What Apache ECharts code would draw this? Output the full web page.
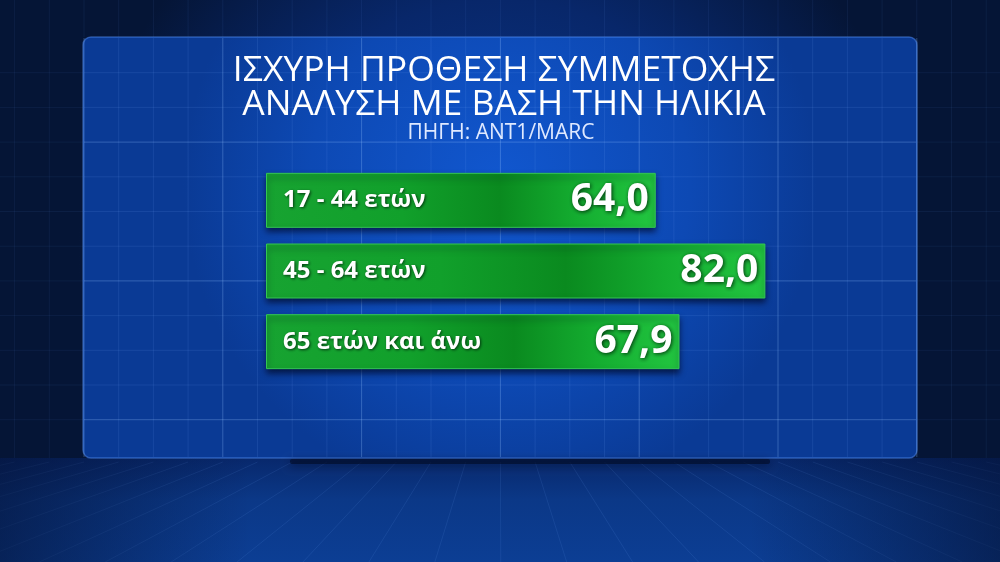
<!DOCTYPE html>
<html>
<head>
<meta charset="utf-8">
<style>html,body{margin:0;padding:0;background:#071a45;}#c{width:1000px;height:562px;}</style>
<script src="https://cdn.jsdelivr.net/npm/echarts@6/dist/echarts.min.js"></script>
</head>
<body>
<div id="c"></div>
<script>
const titleLines = ['ΙΣΧΥΡΗ ΠΡΟΘΕΣΗ ΣΥΜΜΕΤΟΧΗΣ', 'ΑΝΑΛΥΣΗ ΜΕ ΒΑΣΗ ΤΗΝ ΗΛΙΚΙΑ'];
const sourceText = 'ΠΗΓΗ: ANT1/MARC';
const categories = ['17 - 44 ετών', '45 - 64 ετών', '65 ετών και άνω'];
const values = [64.0, 82.0, 67.9];

const chart = echarts.init(document.getElementById('c'), null, {renderer: 'canvas'});

// decorative background
const deco = [];
deco.push({type: 'rect', shape: {x: 0, y: 0, width: 1000, height: 562}, z: -20,
  style: {fill: new echarts.graphic.RadialGradient(0.5, 0.45, 0.75, [
    {offset: 0, color: '#0c3a92'}, {offset: 0.6, color: '#08276a'}, {offset: 1, color: '#051536'}])}});
// floor
deco.push({type: 'rect', shape: {x: 0, y: 458, width: 1000, height: 104}, z: -19,
  style: {fill: new echarts.graphic.LinearGradient(0, 0, 0, 1, [
    {offset: 0, color: '#08286c'}, {offset: 0.4, color: '#0b3887'}, {offset: 1, color: '#0c3e94'}])}});
for (let k = -20; k <= 48; k++) {
  const xt = 84 + 34.7 * k;
  const xb = 500 + (xt - 500) * 1.9;
  deco.push({type: 'line', shape: {x1: xt, y1: 462, x2: xb, y2: 562}, z: -17,
    style: {stroke: 'rgba(120,170,255,0.11)', lineWidth: 1}});
}
deco.push({type: 'rect', shape: {x: 0, y: 458, width: 1000, height: 104}, z: -16,
  style: {fill: new echarts.graphic.LinearGradient(0, 0, 1, 0, [
    {offset: 0, color: 'rgba(3,12,40,0.55)'}, {offset: 0.25, color: 'rgba(3,12,40,0)'},
    {offset: 0.75, color: 'rgba(3,12,40,0)'}, {offset: 1, color: 'rgba(3,12,40,0.55)'}])}});
// panel
deco.push({type: 'rect', shape: {x: 83, y: 37, width: 834, height: 421, r: 8}, z: -15,
  style: {fill: new echarts.graphic.RadialGradient(0.5, 0.35, 0.75, [
    {offset: 0, color: '#1157cf'}, {offset: 0.6, color: '#0d49b4'}, {offset: 1, color: '#0a3a95'}]),
    stroke: 'rgba(90,150,255,0.45)', lineWidth: 1.5}});
// soft shadow under panel
deco.push({type: 'rect', shape: {x: 290, y: 459, width: 480, height: 5, r: 2}, z: -14,
  style: {fill: 'rgba(2,10,35,0.6)', shadowBlur: 8, shadowColor: 'rgba(2,10,35,0.9)', shadowOffsetY: 2}});
// grid lines inside panel
for (let k = 0; k <= 24; k++) {
  const x = 84 + 34.7 * k;
  const major = k % 4 === 0;
  deco.push({type: 'line', shape: {x1: x, y1: 38, x2: x, y2: 457}, z: -13,
    style: {stroke: major ? 'rgba(150,195,255,0.3)' : 'rgba(120,170,255,0.12)', lineWidth: 1}});
}
for (let k = 1; k <= 11; k++) {
  const y = 38 + 34.7 * k;
  const major = (k - 3) % 4 === 0;
  deco.push({type: 'line', shape: {x1: 84, y1: y, x2: 916, y2: y}, z: -13,
    style: {stroke: major ? 'rgba(150,195,255,0.3)' : 'rgba(120,170,255,0.12)', lineWidth: 1}});
}
// faint lines outside panel
for (let k = -3; k <= 27; k++) {
  const x = 84 + 34.7 * k;
  if (k < 0 || k > 24) {
    deco.push({type: 'line', shape: {x1: x, y1: 0, x2: x, y2: 458}, z: -13, style: {stroke: 'rgba(120,170,255,0.07)', lineWidth: 1}});
  } else {
    deco.push({type: 'line', shape: {x1: x, y1: 0, x2: x, y2: 37}, z: -13, style: {stroke: 'rgba(120,170,255,0.08)', lineWidth: 1}});
  }
}
for (let k = 1; k <= 11; k++) {
  const y = 38 + 34.7 * k;
  deco.push({type: 'line', shape: {x1: 0, y1: y, x2: 83, y2: y}, z: -13, style: {stroke: 'rgba(120,170,255,0.07)', lineWidth: 1}});
  deco.push({type: 'line', shape: {x1: 917, y1: y, x2: 1000, y2: y}, z: -13, style: {stroke: 'rgba(120,170,255,0.07)', lineWidth: 1}});
}

const fmt = v => v.toFixed(1).replace('.', ',');

chart.setOption({
  animation: false,
  backgroundColor: 'transparent',
  graphic: {elements: deco},
  title: [{
    text: titleLines.join('\n'),
    left: 499, top: 49, textAlign: 'center',
    textStyle: {color: '#ffffff', fontFamily: 'Open Sans', fontWeight: 'normal', fontSize: 35.5, lineHeight: 34}
  }, {
    text: sourceText,
    left: 496, top: 118, textAlign: 'center',
    textStyle: {color: '#dfe9ff', fontFamily: 'Open Sans', fontWeight: 'normal', fontSize: 21}
  }],
  grid: {left: 266, right: 125, top: 165, bottom: 185},
  xAxis: {type: 'value', min: 0, max: 100, show: false},
  yAxis: {
    type: 'category', data: categories, inverse: true, z: 10,
    axisLine: {show: false}, axisTick: {show: false}, splitLine: {show: false},
    axisLabel: {inside: true, margin: 17, color: '#ffffff', fontFamily: 'Open Sans', fontWeight: 'bold', fontSize: 24,
      textShadowColor: 'rgba(0,40,10,0.9)', textShadowBlur: 3, textShadowOffsetX: 1, textShadowOffsetY: 1}
  },
  series: [{
    type: 'bar', data: values, barWidth: 55,
    itemStyle: {
      color: new echarts.graphic.LinearGradient(0, 0, 1, 0, [
        {offset: 0, color: '#17a331'}, {offset: 0.35, color: '#11a02b'}, {offset: 0.6, color: '#0a8a1f'},
        {offset: 0.8, color: '#14ad30'}, {offset: 1, color: '#22c640'}]),
      borderColor: '#34c653', borderWidth: 1,
      shadowColor: 'rgba(0,8,35,0.7)', shadowBlur: 6, shadowOffsetY: 4
    },
    label: {
      show: true, position: 'insideRight', distance: 7, formatter: p => fmt(p.value),
      color: '#ffffff', fontFamily: 'Open Sans', fontWeight: 'bold', fontSize: 39,
      textShadowColor: 'rgba(0,40,10,0.95)', textShadowBlur: 4, textShadowOffsetX: 1, textShadowOffsetY: 1
    }
  }]
});
</script>
</body>
</html>
